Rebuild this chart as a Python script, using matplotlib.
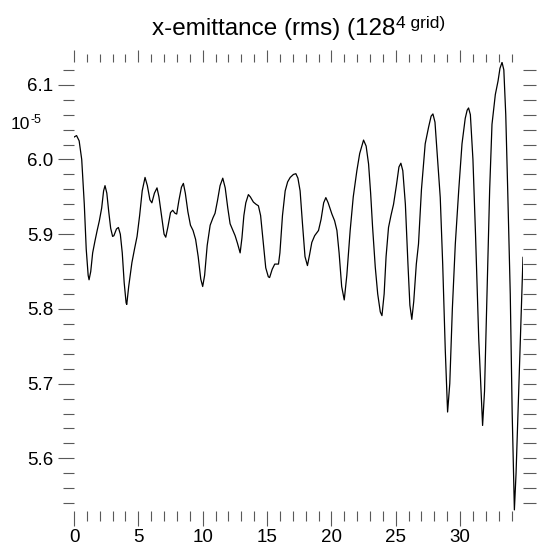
import matplotlib
matplotlib.use("Agg")
import matplotlib.pyplot as plt
import numpy as np
from matplotlib.ticker import MultipleLocator

plt.rcParams['font.family'] = ['Liberation Sans', 'DejaVu Sans']

# time (x) and x-emittance in units of 1e-5 (y)
x = [0.0, 0.2, 0.4, 0.6, 0.8, 0.95, 1.1, 1.17, 1.3, 1.45, 1.63, 1.8, 1.97, 2.15, 2.3, 2.41,
     2.55, 2.7, 2.85, 3.0, 3.1, 3.3, 3.45, 3.6, 3.75, 3.9, 4.05, 4.1, 4.25, 4.5, 4.7, 4.9,
     5.1, 5.3, 5.52, 5.7, 5.9, 6.05, 6.25, 6.45, 6.6, 6.8, 7.0, 7.13, 7.3, 7.5, 7.67, 7.85,
     7.98, 8.15, 8.35, 8.5, 8.65, 8.85, 9.05, 9.25, 9.45, 9.65, 9.85, 10.0, 10.15, 10.35,
     10.58, 10.8, 10.96, 11.15, 11.35, 11.56, 11.75, 11.95, 12.13, 12.35, 12.52, 12.7, 12.91,
     13.05, 13.2, 13.35, 13.55, 13.7, 13.94, 14.15, 14.33, 14.5, 14.7, 14.9, 15.1, 15.2, 15.4,
     15.6, 15.89, 16.0, 16.2, 16.41, 16.6, 16.8, 17.05, 17.24, 17.4, 17.57, 17.75, 17.95,
     18.14, 18.3, 18.48, 18.7, 19.0, 19.2, 19.4, 19.57, 19.75, 20.04, 20.25, 20.43, 20.6,
     20.8, 21.0, 21.2, 21.46, 21.7, 21.98, 22.2, 22.5, 22.7, 22.89, 23.05, 23.2, 23.41, 23.6,
     23.8, 23.93, 24.1, 24.25, 24.44, 24.63, 24.83, 25.05, 25.25, 25.4, 25.55, 25.75, 25.95,
     26.1, 26.25, 26.4, 26.6, 26.77, 27.0, 27.29, 27.55, 27.75, 27.89, 28.05, 28.25, 28.46,
     28.65, 28.85, 29.03, 29.2, 29.4, 29.63, 29.9, 30.15, 30.4, 30.55, 30.66, 30.8, 31.0,
     31.2, 31.45, 31.75, 31.9, 32.09, 32.3, 32.48, 32.74, 32.95, 33.1, 33.26, 33.4, 33.55,
     33.7, 33.9, 34.05, 34.22, 34.35, 34.55, 34.72, 34.89]
y = [6.030, 6.032, 6.025, 6.000, 5.940, 5.880, 5.845, 5.839, 5.850, 5.875, 5.891, 5.905,
     5.918, 5.935, 5.958, 5.965, 5.955, 5.930, 5.908, 5.897, 5.898, 5.907, 5.909, 5.900,
     5.875, 5.835, 5.808, 5.806, 5.830, 5.862, 5.880, 5.897, 5.925, 5.958, 5.976, 5.965,
     5.946, 5.942, 5.955, 5.962, 5.950, 5.925, 5.900, 5.896, 5.910, 5.929, 5.932, 5.928,
     5.927, 5.945, 5.963, 5.968, 5.955, 5.930, 5.912, 5.905, 5.893, 5.870, 5.840, 5.830,
     5.845, 5.885, 5.912, 5.922, 5.928, 5.945, 5.965, 5.975, 5.962, 5.935, 5.914, 5.905,
     5.898, 5.888, 5.875, 5.895, 5.925, 5.942, 5.953, 5.950, 5.943, 5.940, 5.938, 5.925,
     5.890, 5.855, 5.843, 5.842, 5.853, 5.860, 5.860, 5.875, 5.925, 5.958, 5.970, 5.976,
     5.980, 5.981, 5.975, 5.958, 5.915, 5.870, 5.858, 5.872, 5.889, 5.898, 5.905, 5.920,
     5.942, 5.949, 5.942, 5.927, 5.918, 5.905, 5.875, 5.830, 5.812, 5.845, 5.905, 5.950,
     5.985, 6.008, 6.026, 6.018, 5.994, 5.955, 5.910, 5.856, 5.820, 5.796, 5.791, 5.820,
     5.870, 5.909, 5.925, 5.940, 5.965, 5.990, 5.995, 5.985, 5.940, 5.860, 5.805, 5.786,
     5.810, 5.860, 5.887, 5.960, 6.021, 6.043, 6.058, 6.061, 6.050, 6.000, 5.949, 5.860,
     5.745, 5.662, 5.700, 5.800, 5.887, 5.960, 6.021, 6.055, 6.066, 6.069, 6.060, 6.000,
     5.900, 5.760, 5.644, 5.690, 5.820, 5.960, 6.047, 6.087, 6.105, 6.122, 6.130, 6.120,
     6.060, 5.960, 5.820, 5.660, 5.531, 5.580, 5.687, 5.780, 5.869]

x_major = [0, 5, 10, 15, 20, 25, 30]
y_major = [5.6, 5.7, 5.8, 5.9, 6.0, 6.1]
y_labels = ['5.6', '5.7', '5.8', '5.9', '6.0', '6.1']

W, H = 537, 548
fig = plt.figure(figsize=(W / 100, H / 100), dpi=100)
L, R, B, T = 74, 523, 511, 62
ax = fig.add_axes([L / W, (H - B) / H, (R - L) / W, (B - T) / H])

ax.plot(x, y, color='black', lw=0.9)
ax.set_xlim(0, max(x))
ax.set_ylim(min(y) - 0.0015, max(y) + 0.0005)

for s in ax.spines.values():
    s.set_visible(False)

tc = '0.35'
ax.set_xticks(x_major)
ax.set_xticklabels([str(v) for v in x_major])
ax.xaxis.set_minor_locator(MultipleLocator(1))
ax.set_yticks(y_major)
ax.set_yticklabels(y_labels)
ax.yaxis.set_minor_locator(MultipleLocator(0.02))
ax.tick_params(axis='x', which='major', direction='out', length=10.8, width=0.8,
               color=tc, labelsize=13.5, pad=2)
ax.tick_params(axis='x', which='minor', direction='out', length=7.2, width=0.8, color=tc)
ax.tick_params(axis='y', which='major', direction='out', length=11.5, width=0.8,
               color=tc, labelsize=13.5, pad=3.5)
ax.tick_params(axis='y', which='minor', direction='out', length=7.9, width=0.8, color=tc)

# top ticks
top = ax.secondary_xaxis('top')
top.set_xticks(x_major)
top.xaxis.set_minor_locator(MultipleLocator(1))
top.tick_params(which='major', direction='out', length=8.6, width=0.8, color=tc,
                labeltop=False)
top.tick_params(which='minor', direction='out', length=6.1, width=0.8, color=tc)
for s in top.spines.values():
    s.set_visible(False)

# right ticks
right = ax.secondary_yaxis('right')
right.set_yticks(y_major)
right.yaxis.set_minor_locator(MultipleLocator(0.02))
right.tick_params(which='major', direction='out', length=9.5, width=0.8, color=tc,
                  labelright=False)
right.tick_params(which='minor', direction='out', length=9.5, width=0.8, color=tc)
for s in right.spines.values():
    s.set_visible(False)

# exponent label
e1 = fig.text(11 / W, (H - 129) / H, '10', fontsize=12.5, ha='left', va='baseline')
fig.canvas.draw()
r = fig.canvas.get_renderer()
we = e1.get_window_extent(r).width
fig.text((11 + we + 0.5) / W, (H - 123) / H, '-5', fontsize=9, ha='left', va='baseline')

# title with superscript
t1 = fig.text(0, (H - 35) / H, 'x-emittance (rms) (128', fontsize=17.5, ha='left',
              va='baseline')
t2 = fig.text(0, (H - 28) / H, '4 grid)', fontsize=12.5, ha='left', va='baseline')
w1 = t1.get_window_extent(r).width
w2 = t2.get_window_extent(r).width
cx = (L + R) / 2
x0 = cx - (w1 + w2) / 2
t1.set_x(x0 / W)
t2.set_x((x0 + w1 + 0.5) / W)

fig.savefig('out.png', dpi=100)
